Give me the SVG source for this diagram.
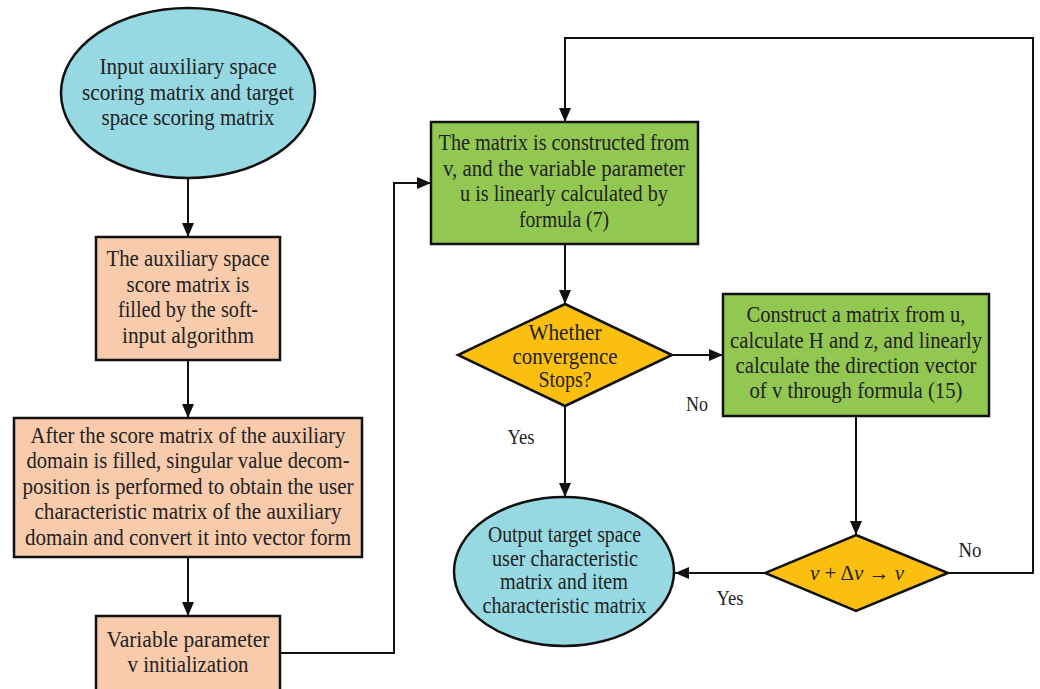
<svg xmlns="http://www.w3.org/2000/svg" width="1040" height="689" viewBox="0 0 1040 689">
<defs>
<style>
.t{font-family:"Liberation Serif","DejaVu Serif",serif;font-size:24px;fill:#222;text-anchor:middle}
.lbl{font-family:"Liberation Serif","DejaVu Serif",serif;font-size:22px;fill:#222;text-anchor:middle}
.f{font-family:"Liberation Serif","DejaVu Serif",serif;font-size:21px;fill:#222;text-anchor:middle}
.shape{stroke:#111;stroke-width:2.5}
.oval{fill:#97D9E3}
.peach{fill:#F8CBAD}
.green{fill:#92C852}
.dia{fill:#FBBF10}
.conn{fill:none;stroke:#111;stroke-width:2}
</style>
<marker id="ah" viewBox="0 0 14 12" refX="14" refY="6" markerWidth="14" markerHeight="12" markerUnits="userSpaceOnUse" orient="auto">
<path d="M0,0 L14,6 L0,12 Z" fill="#111"/>
</marker>
</defs>
<rect width="1040" height="689" fill="#fff"/>

<g id="connectors">
<line class="conn" x1="188" y1="178" x2="188" y2="237" marker-end="url(#ah)"/>
<line class="conn" x1="188" y1="360" x2="188" y2="418" marker-end="url(#ah)"/>
<line class="conn" x1="188" y1="557" x2="188" y2="616" marker-end="url(#ah)"/>
<polyline class="conn" points="280,653 394,653 394,183 431,183" marker-end="url(#ah)"/>
<line class="conn" x1="565" y1="244" x2="565" y2="304" marker-end="url(#ah)"/>
<line class="conn" x1="672" y1="355" x2="723" y2="355" marker-end="url(#ah)"/>
<line class="conn" x1="565" y1="406" x2="565" y2="497" marker-end="url(#ah)"/>
<line class="conn" x1="856" y1="416" x2="856" y2="535" marker-end="url(#ah)"/>
<line class="conn" x1="765" y1="573" x2="675" y2="573" marker-end="url(#ah)"/>
<polyline class="conn" points="948,573 1033,573 1033,38 565,38 565,122" marker-end="url(#ah)"/>
<text class="lbl" x="697" y="411" textLength="22" lengthAdjust="spacingAndGlyphs">No</text>
<text class="lbl" x="521" y="444" textLength="27" lengthAdjust="spacingAndGlyphs">Yes</text>
<text class="lbl" x="730" y="605" textLength="27" lengthAdjust="spacingAndGlyphs">Yes</text>
<text class="lbl" x="970" y="557" textLength="23" lengthAdjust="spacingAndGlyphs">No</text>
</g>

<g id="n1">
<ellipse class="shape oval" cx="188" cy="93" rx="127" ry="85"/>
<text class="t" x="188" y="74" textLength="177" lengthAdjust="spacingAndGlyphs">Input auxiliary space</text>
<text class="t" x="188" y="99.5" textLength="212" lengthAdjust="spacingAndGlyphs">scoring matrix and target</text>
<text class="t" x="188" y="125" textLength="173" lengthAdjust="spacingAndGlyphs">space scoring matrix</text>
</g>

<g id="n2">
<rect class="shape peach" x="96" y="237" width="184" height="123"/>
<text class="t" x="188" y="266" textLength="163" lengthAdjust="spacingAndGlyphs">The auxiliary space</text>
<text class="t" x="188" y="291.5" textLength="123" lengthAdjust="spacingAndGlyphs">score matrix is</text>
<text class="t" x="188" y="317" textLength="140" lengthAdjust="spacingAndGlyphs">filled by the soft-</text>
<text class="t" x="188" y="342.5" textLength="132" lengthAdjust="spacingAndGlyphs">input algorithm</text>
</g>

<g id="n3">
<rect class="shape peach" x="14" y="418" width="348" height="139"/>
<text class="t" x="188" y="442.5" textLength="315" lengthAdjust="spacingAndGlyphs">After the score matrix of the auxiliary</text>
<text class="t" x="188" y="468" textLength="323" lengthAdjust="spacingAndGlyphs">domain is filled, singular value decom-</text>
<text class="t" x="188" y="494" textLength="331" lengthAdjust="spacingAndGlyphs">position is performed to obtain the user</text>
<text class="t" x="188" y="519" textLength="307" lengthAdjust="spacingAndGlyphs">characteristic matrix of the auxiliary</text>
<text class="t" x="188" y="545" textLength="326" lengthAdjust="spacingAndGlyphs">domain and convert it into vector form</text>
</g>

<g id="n4">
<rect class="shape peach" x="96" y="616" width="184" height="90"/>
<text class="t" x="188" y="646.5" textLength="163" lengthAdjust="spacingAndGlyphs">Variable parameter</text>
<text class="t" x="188" y="671.5" textLength="121" lengthAdjust="spacingAndGlyphs">v initialization</text>
</g>

<g id="n5">
<rect class="shape green" x="431" y="122" width="267" height="122"/>
<text class="t" x="564" y="150" textLength="251" lengthAdjust="spacingAndGlyphs">The matrix is constructed from</text>
<text class="t" x="564" y="176" textLength="242" lengthAdjust="spacingAndGlyphs">v, and the variable parameter</text>
<text class="t" x="564" y="201" textLength="208" lengthAdjust="spacingAndGlyphs">u is linearly calculated by</text>
<text class="t" x="564" y="227" textLength="90" lengthAdjust="spacingAndGlyphs">formula (7)</text>
</g>

<g id="n6">
<polygon class="shape dia" points="565,304 672,355 565,406 458,355"/>
<text class="t" x="565" y="340" textLength="73" lengthAdjust="spacingAndGlyphs">Whether</text>
<text class="t" x="565" y="363.5" textLength="105" lengthAdjust="spacingAndGlyphs">convergence</text>
<text class="t" x="565" y="387" textLength="53" lengthAdjust="spacingAndGlyphs">Stops?</text>
</g>

<g id="n7">
<rect class="shape green" x="723" y="294" width="266" height="122"/>
<text class="t" x="856" y="322" textLength="219" lengthAdjust="spacingAndGlyphs">Construct a matrix from u,</text>
<text class="t" x="856" y="347.5" textLength="252" lengthAdjust="spacingAndGlyphs">calculate H and z, and linearly</text>
<text class="t" x="856" y="373" textLength="241" lengthAdjust="spacingAndGlyphs">calculate the direction vector</text>
<text class="t" x="856" y="398" textLength="213" lengthAdjust="spacingAndGlyphs">of v through formula (15)</text>
</g>

<g id="n8">
<polygon class="shape dia" points="856,535 948,573 856,611 765,573"/>
<text class="f" x="857" y="580"><tspan font-style="italic">ν</tspan> + Δ<tspan font-style="italic">ν</tspan> → <tspan font-style="italic">ν</tspan></text>
</g>

<g id="n9">
<ellipse class="shape oval" cx="564" cy="571.5" rx="110" ry="74.5"/>
<text class="t" x="564.5" y="542" textLength="153" lengthAdjust="spacingAndGlyphs">Output target space</text>
<text class="t" x="565" y="565.5" textLength="146" lengthAdjust="spacingAndGlyphs">user characteristic</text>
<text class="t" x="564" y="589" textLength="128" lengthAdjust="spacingAndGlyphs">matrix and item</text>
<text class="t" x="564.5" y="613" textLength="164" lengthAdjust="spacingAndGlyphs">characteristic matrix</text>
</g>
</svg>
